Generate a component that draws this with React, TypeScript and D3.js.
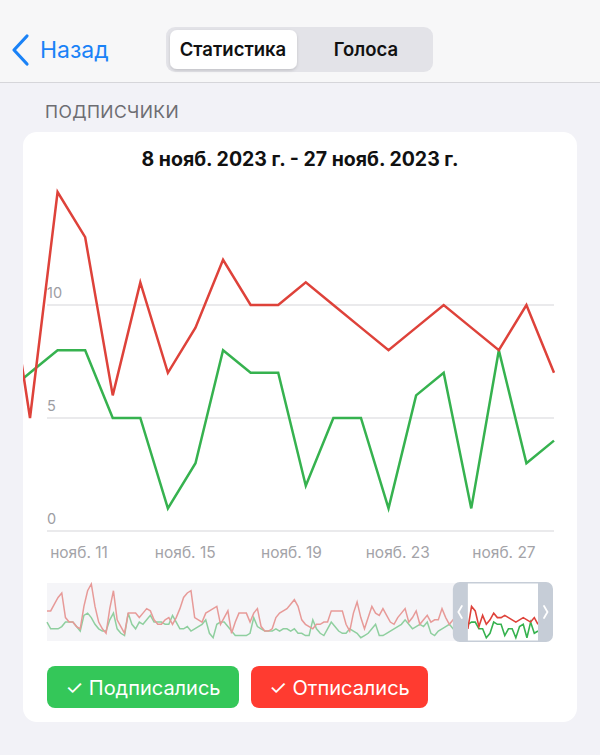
import React from "react";
import * as d3 from "d3";

// ---------- DATA ----------
const startDate = new Date(2023, 6, 17); // 17 Jul 2023
const rangeStart = new Date(2023, 10, 8);
const rangeEnd = new Date(2023, 10, 27);

// Unsubscribed (red), daily, 17 Jul .. 27 Nov 2023
const unsubscribed: number[] = [
  13, 13, 16, 19, 21, 10, 8, 8, 6, 5, 15, 22, 25, 15, 8, 5, 3, 14, 22, 9,
  6, 3, 12, 12, 12, 10, 12, 14, 13, 9, 7, 7, 9, 10, 7, 10, 14, 19, 21, 22,
  10, 9, 8, 12, 13, 14, 15, 7, 10, 13, 3, 8, 12, 12, 12, 8, 12, 14, 6, 4,
  4, 5, 10, 12, 13, 14, 16, 18, 15, 9, 7, 6, 5, 7, 7, 8, 8, 13, 13, 13,
  13, 7, 4, 12, 17, 10, 5, 10, 15, 12, 11, 14, 11, 8, 7, 10, 12, 14, 8, 10,
  13, 7, 9, 11, 8, 9, 9, 14, 10, 7, 9, 11, 10, 13,
  // 8 Nov .. 27 Nov
  5, 15, 13, 6, 11, 7, 9, 12, 10, 10, 11, 10, 9, 8, 9, 10, 9, 8, 10, 7,
];

// Subscribed (green), daily, 17 Jul .. 27 Nov 2023
const subscribed: number[] = [
  8, 5, 5, 5, 6, 8, 8, 8, 6, 4, 11, 12, 10, 7, 5, 4, 4, 9, 12, 5,
  3, 2, 12, 7, 5, 8, 7, 9, 11, 8, 8, 8, 7, 7, 11, 8, 5, 5, 6, 4,
  5, 6, 7, 9, 3, 1, 7, 8, 8, 6, 4, 2, 2, 2, 2, 3, 10, 6, 5, 4,
  4, 4, 5, 4, 5, 5, 4, 5, 3, 3, 2, 2, 9, 5, 3, 2, 5, 8, 6, 4,
  3, 3, 5, 4, 3, 1, 2, 3, 5, 7, 2, 2, 3, 4, 5, 6, 7, 9, 7, 5,
  6, 7, 6, 8, 3, 2, 4, 5, 6, 7, 5, 6, 4, 6,
  // 8 Nov .. 27 Nov
  7, 8, 8, 5, 5, 1, 3, 8, 7, 7, 2, 5, 5, 1, 6, 7, 1, 8, 3, 4,
];

const yTicks: number[] = [0, 5, 10];
const xTickDays: number[] = [11, 15, 19, 23, 27];
const xTickLabels: string[] = ["нояб. 11", "нояб. 15", "нояб. 19", "нояб. 23", "нояб. 27"];
const title = "8 нояб. 2023 г. - 27 нояб. 2023 г.";
const sectionTitle = "ПОДПИСЧИКИ";
const legend = ["✓ Подписались", "✓ Отписались"];

const RED = "#de423a";
const GREEN = "#36b24f";
const FONT = "Inter, 'Noto Sans', sans-serif";

type Pt = { date: Date; v: number };
const dates = unsubscribed.map((_, i) => d3.timeDay.offset(startDate, i));
const redPts: Pt[] = unsubscribed.map((v, i) => ({ date: dates[i], v }));
const greenPts: Pt[] = subscribed.map((v, i) => ({ date: dates[i], v }));

export default function App() {
  const W = 600;
  const H = 755;

  // main chart scales
  const x = d3.scaleTime().domain([rangeStart, rangeEnd]).range([30, 554]);
  const y = d3.scaleLinear().domain([0, 15]).range([531, 192]);
  const line = d3
    .line<Pt>()
    .x((d) => x(d.date))
    .y((d) => y(d.v));

  const labelX = d3
    .scaleTime()
    .domain([new Date(2023, 10, 11), new Date(2023, 10, 27)])
    .range([79, 504]);

  // mini chart scales
  const mx = d3.scaleTime().domain([startDate, rangeEnd]).range([47, 538]);
  const my = d3.scaleLinear().domain([0, 25]).range([640, 584]);
  const mline = d3
    .line<Pt>()
    .x((d) => mx(d.date))
    .y((d) => my(d.v));

  const winL = mx(rangeStart) - 15;
  const winR = mx(rangeEnd) + 15;
  const miniTop = 582;
  const miniBot = 642;
  const midY = (miniTop + miniBot) / 2;

  return (
    <div style={{ position: "fixed", left: 0, top: 0, width: W, height: H }}>
      <svg width={W} height={H} style={{ display: "block", fontFamily: FONT }}>
        <defs>
          <clipPath id="mainClip">
            <rect x={23} y={140} width={554} height={400} />
          </clipPath>
          <clipPath id="winClip">
            <rect x={winL + 15} y={miniTop} width={winR - winL - 30} height={miniBot - miniTop} />
          </clipPath>
          <filter id="shadow" x="-10%" y="-20%" width="120%" height="150%">
            <feDropShadow dx="0" dy="1.5" stdDeviation="1.5" floodColor="#000" floodOpacity="0.15" />
          </filter>
        </defs>

        {/* backgrounds */}
        <rect x={0} y={0} width={W} height={H} fill="#f2f2f7" />
        <rect x={0} y={0} width={W} height={82} fill="#f7f7f8" />
        <line x1={0} x2={W} y1={82.5} y2={82.5} stroke="#d6d6da" strokeWidth={1} />

        {/* header */}
        <path d="M27,36 L14,50 L27,64" fill="none" stroke="#1a82f7" strokeWidth={3.2} strokeLinecap="round" strokeLinejoin="round" />
        <text x={40} y={58} fontSize={23} fill="#1a82f7">Назад</text>
        <rect x={166} y={27} width={267} height={45} rx={9} fill="#e3e3e8" />
        <rect x={170} y={30} width={127} height={39} rx={7} fill="#ffffff" filter="url(#shadow)" />
        <text x={233} y={56} fontSize={18.5} fontWeight={600} textAnchor="middle" fill="#111">Статистика</text>
        <text x={366} y={56} fontSize={18.5} fontWeight={600} textAnchor="middle" fill="#111">Голоса</text>

        <text x={45} y={118} fontSize={17.5} fill="#6d6d72" letterSpacing={0.4}>{sectionTitle}</text>

        {/* card */}
        <rect x={23} y={132} width={554} height={590} rx={14} fill="#ffffff" />

        <text x={300} y={166} fontSize={19.5} fontWeight={700} textAnchor="middle" fill="#111">{title}</text>

        {/* grid */}
        {yTicks.map((t) => (
          <g key={t}>
            <line x1={47} x2={554} y1={y(t)} y2={y(t)} stroke="#e3e3e6" strokeWidth={1.5} />
            <text x={47} y={y(t) - 7} fontSize={14.5} fill="#9d9da3">{t}</text>
          </g>
        ))}

        {/* lines */}
        <g clipPath="url(#mainClip)">
          <path d={line(greenPts) ?? ""} fill="none" stroke={GREEN} strokeWidth={2.5} strokeLinejoin="miter" />
          <path d={line(redPts) ?? ""} fill="none" stroke={RED} strokeWidth={2.5} strokeLinejoin="miter" />
        </g>

        {/* x labels */}
        {xTickDays.map((d, i) => (
          <text key={d} x={labelX(new Date(2023, 10, d))} y={558} fontSize={15.5} textAnchor="middle" fill="#a3a3a8">
            {xTickLabels[i]}
          </text>
        ))}

        {/* mini chart */}
        <g>
          <rect x={47} y={583} width={winL - 47 + 6} height={58} fill="#f5f5f8" />
          <path d={mline(greenPts) ?? ""} fill="none" stroke="#8fcf9f" strokeWidth={1.5} />
          <path d={mline(redPts) ?? ""} fill="none" stroke="#e79a98" strokeWidth={1.5} />
          <rect x={winL + 14} y={miniTop + 1} width={winR - winL - 28} height={miniBot - miniTop - 2} fill="#ffffff" />
          <g clipPath="url(#winClip)">
            <path d={mline(greenPts) ?? ""} fill="none" stroke={GREEN} strokeWidth={1.6} />
            <path d={mline(redPts) ?? ""} fill="none" stroke={RED} strokeWidth={1.6} />
          </g>
          {/* window frame */}
          <path
            d={`M${winL + 7},${miniTop} H${winR - 7} A7,7 0 0 1 ${winR},${miniTop + 7} V${miniBot - 7} A7,7 0 0 1 ${winR - 7},${miniBot} H${winL + 7} A7,7 0 0 1 ${winL},${miniBot - 7} V${miniTop + 7} A7,7 0 0 1 ${winL + 7},${miniTop} Z
               M${winL + 15},${miniTop + 1.5} V${miniBot - 1.5} H${winR - 15} V${miniTop + 1.5} Z`}
            fill="#c6cdd7"
            fillRule="evenodd"
          />
          <path d={`M${winL + 9},${midY - 6} L${winL + 5.5},${midY} L${winL + 9},${midY + 6}`} fill="none" stroke="#fff" strokeWidth={1.8} strokeLinecap="round" />
          <path d={`M${winR - 9},${midY - 6} L${winR - 5.5},${midY} L${winR - 9},${midY + 6}`} fill="none" stroke="#fff" strokeWidth={1.8} strokeLinecap="round" />
        </g>

        {/* legend buttons */}
        <rect x={47} y={666} width={192} height={42} rx={8} fill="#34c759" />
        <text x={143} y={694.5} fontSize={20} textAnchor="middle" fill="#fff">{legend[0]}</text>
        <rect x={251} y={666} width={177} height={42} rx={8} fill="#ff3b30" />
        <text x={339.5} y={694.5} fontSize={20} textAnchor="middle" fill="#fff">{legend[1]}</text>
      </svg>
    </div>
  );
}
